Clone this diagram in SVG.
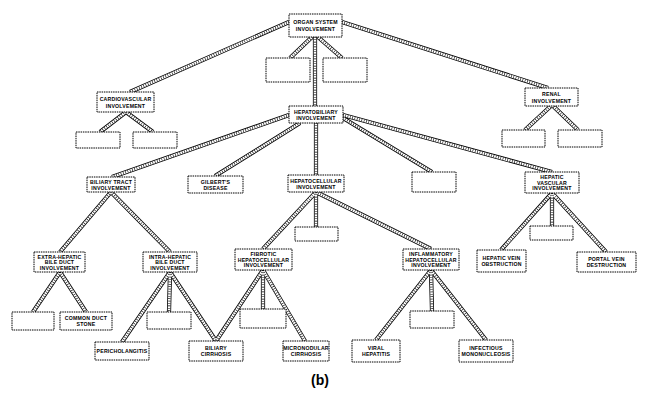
<svg xmlns="http://www.w3.org/2000/svg" xmlns:xlink="http://www.w3.org/1999/xlink" width="648" height="400" viewBox="0 0 648 400">
<style>
.b{fill:#fff;stroke:#000;stroke-width:1;stroke-dasharray:1.5 0.8}
.t{font-family:"Liberation Sans",Arial,sans-serif;font-size:5.2px;font-weight:bold;fill:#000;text-anchor:middle;letter-spacing:0.2px}
.o{fill:none;stroke:#000;stroke-width:4.2}
.i{fill:none;stroke:#fff;stroke-width:2.6}
.h{fill:none;stroke:#000;stroke-width:2.6;stroke-dasharray:0.6 1.8}
</style>
<defs>
<path id="c" d="M315,37 L315,106 M289,22 L130,92 M342,22 L548,88 M312,37 L290,58 M318,37 L342,58
M126,112 L100,132 M126,112 L153,132 M552,105 L525,130 M552,105 L578,130
M289,115 L112,177 M300,123 L215,176 M316,123 L316,175 M343,118 L432,172 M343,115 L552,172
M111,192 L60,252 M111,192 L170,252
M316,192 L316,227 M316,192 L263,249 M316,192 L431,249
M552,193 L501,250 M552,193 L552,226 M552,193 L606,252
M60,272 L33,312 M60,272 L86,312
M170,272 L122,342 M170,272 L169,312 M170,272 L216,341
M263,270 L216,341 M263,270 L263,309 M263,270 L305,341
M431,270 L376,340 M431,270 L432,311 M431,270 L486,340"/>
</defs>
<rect width="648" height="400" fill="#fff"/>
<g id="connectors">
<use xlink:href="#c" class="o"/>
<use xlink:href="#c" class="i"/>
<use xlink:href="#c" class="h"/>
</g>
<g id="organ"><rect class="b" x="289" y="14" width="53" height="23"/><text class="t" x="315.5" y="24">ORGAN SYSTEM</text><text class="t" x="315.5" y="31">INVOLVEMENT</text></g>
<g id="e1"><rect class="b" x="266" y="58" width="44" height="24"/></g>
<g id="e2"><rect class="b" x="323" y="58" width="44" height="24"/></g>
<g id="cardio"><rect class="b" x="97" y="92" width="57" height="20"/><text class="t" x="125.5" y="101">CARDIOVASCULAR</text><text class="t" x="125.5" y="108">INVOLVEMENT</text></g>
<g id="e3"><rect class="b" x="76" y="132" width="44" height="16"/></g>
<g id="e4"><rect class="b" x="133" y="132" width="44" height="16"/></g>
<g id="renal"><rect class="b" x="525" y="88" width="53" height="18"/><text class="t" x="551.5" y="96">RENAL</text><text class="t" x="551.5" y="102.5">INVOLVEMENT</text></g>
<g id="e5"><rect class="b" x="502" y="130" width="43" height="17"/></g>
<g id="e6"><rect class="b" x="558" y="130" width="44" height="17"/></g>
<g id="hepatobiliary"><rect class="b" x="289" y="106" width="54" height="17"/><text class="t" x="316" y="113.5">HEPATOBILIARY</text><text class="t" x="316" y="120">INVOLVEMENT</text></g>
<g id="biliary"><rect class="b" x="87" y="177" width="48" height="15"/><text class="t" x="111" y="183.5">BILIARY TRACT</text><text class="t" x="111" y="189.5">INVOLVEMENT</text></g>
<g id="gilbert"><rect class="b" x="188" y="176" width="55" height="17"/><text class="t" x="215.5" y="183.5">GILBERT'S</text><text class="t" x="215.5" y="189.5">DISEASE</text></g>
<g id="hepatocellular"><rect class="b" x="288" y="175" width="56" height="17"/><text class="t" x="316" y="182.5">HEPATOCELLULAR</text><text class="t" x="316" y="188.5">INVOLVEMENT</text></g>
<g id="e7"><rect class="b" x="412" y="172" width="44" height="20"/></g>
<g id="vascular"><rect class="b" x="525" y="172" width="54" height="21"/><text class="t" x="552" y="179">HEPATIC</text><text class="t" x="552" y="184.5">VASCULAR</text><text class="t" x="552" y="190">INVOLVEMENT</text></g>
<g id="e8"><rect class="b" x="295" y="227" width="43" height="14"/></g>
<g id="extra"><rect class="b" x="34" y="252" width="51" height="20"/><text class="t" x="59.5" y="258.5">EXTRA-HEPATIC</text><text class="t" x="59.5" y="264">BILE DUCT</text><text class="t" x="59.5" y="269.5">INVOLVEMENT</text></g>
<g id="intra"><rect class="b" x="143" y="252" width="54" height="20"/><text class="t" x="170" y="258.5">INTRA-HEPATIC</text><text class="t" x="170" y="264">BILE DUCT</text><text class="t" x="170" y="269.5">INVOLVEMENT</text></g>
<g id="fibrotic"><rect class="b" x="235" y="249" width="57" height="21"/><text class="t" x="263.5" y="256">FIBROTIC</text><text class="t" x="263.5" y="261.5">HEPATOCELLULAR</text><text class="t" x="263.5" y="267">INVOLVEMENT</text></g>
<g id="inflammatory"><rect class="b" x="403" y="249" width="56" height="21"/><text class="t" x="431" y="256">INFLAMMATORY</text><text class="t" x="431" y="261.5">HEPATOCELLULAR</text><text class="t" x="431" y="267">INVOLVEMENT</text></g>
<g id="e9"><rect class="b" x="530" y="226" width="43" height="14"/></g>
<g id="hvein"><rect class="b" x="477" y="250" width="49" height="22"/><text class="t" x="501.5" y="259.5">HEPATIC VEIN</text><text class="t" x="501.5" y="265.5">OBSTRUCTION</text></g>
<g id="pvein"><rect class="b" x="577" y="252" width="59" height="20"/><text class="t" x="606.5" y="260.5">PORTAL VEIN</text><text class="t" x="606.5" y="266.5">DESTRUCTION</text></g>
<g id="e10"><rect class="b" x="12" y="312" width="42" height="18"/></g>
<g id="stone"><rect class="b" x="60" y="312" width="52" height="18"/><text class="t" x="86" y="320">COMMON DUCT</text><text class="t" x="86" y="326">STONE</text></g>
<g id="e11"><rect class="b" x="147" y="312" width="44" height="17"/></g>
<g id="e12"><rect class="b" x="240" y="309" width="46" height="19"/></g>
<g id="e13"><rect class="b" x="410" y="311" width="44" height="17"/></g>
<g id="peri"><rect class="b" x="95" y="342" width="54" height="18"/><text class="t" x="122" y="352.5">PERICHOLANGITIS</text></g>
<g id="bcirr"><rect class="b" x="189" y="341" width="54" height="20"/><text class="t" x="216" y="349.5">BILIARY</text><text class="t" x="216" y="355.5">CIRRHOSIS</text></g>
<g id="micro"><rect class="b" x="283" y="341" width="46" height="20"/><text class="t" x="306" y="349.5">MICRONODULAR</text><text class="t" x="306" y="355.5">CIRRHOSIS</text></g>
<g id="viral"><rect class="b" x="352" y="340" width="48" height="22"/><text class="t" x="376" y="349.5">VIRAL</text><text class="t" x="376" y="355.5">HEPATITIS</text></g>
<g id="mono"><rect class="b" x="459" y="340" width="54" height="22"/><text class="t" x="486" y="349.5">INFECTIOUS</text><text class="t" x="486" y="355.5">MONONUCLEOSIS</text></g>
<text x="320" y="385" style="font-family:'Liberation Sans',Arial,sans-serif;font-size:14px;font-weight:bold;text-anchor:middle">(b)</text>
</svg>
